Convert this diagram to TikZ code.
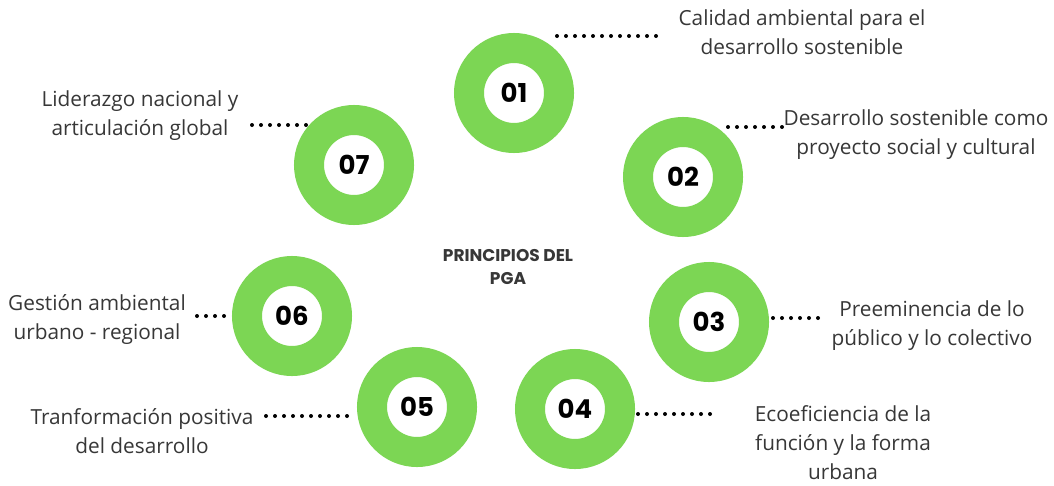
\documentclass[tikz,border=0pt]{standalone}
\usepackage{fontspec}
\setmainfont{Open Sans}
\newfontfamily\numfont{Poppins}
\definecolor{ringgreen}{RGB}{124,214,84}
\definecolor{txtgray}{RGB}{55,55,55}
\begin{document}
\begin{tikzpicture}[x=1pt,y=-1pt,
  ring/.style={circle,draw=ringgreen,line width=30pt,minimum size=90pt,inner sep=0pt,
    font=\numfont\bfseries\fontsize{26}{26}\selectfont,text=black},
  label/.style={align=center,text=txtgray,font=\fontsize{20.8}{29}\selectfont,inner sep=0pt},
  dots/.style={line width=4pt,line cap=round,dash pattern=on 0pt off 9pt,black}]
\useasboundingbox[fill=white] (0,0) rectangle (1054,485);
% rings
\node[ring] (r1) at (514,93) {01};
\node[ring] (r2) at (683,177) {02};
\node[ring] (r3) at (709,322) {03};
\node[ring] (r4) at (575,409) {04};
\node[ring] (r5) at (417,407) {05};
\node[ring] (r6) at (292,316) {06};
\node[ring] (r7) at (354,165) {07};
% centre title
\node[align=center,font=\numfont\bfseries\fontsize{17}{23}\selectfont,text=txtgray] (title) at (508,267) {PRINCIPIOS DEL\\PGA};
% labels
\node[label] (t1) at (802,32.5) {Calidad ambiental para el\\desarrollo sostenible};
\node[label] (t2) at (916,134.5) {Desarrollo sostenible como\\proyecto social y cultural};
\node[label] (t3) at (932,326) {Preeminencia de lo\\público y lo colectivo};
\node[label] (t4) at (843,443) {Ecoeficiencia de la\\función y la forma\\urbana};
\node[label] (t5) at (142,431) {Tranformación positiva\\del desarrollo};
\node[label] (t6) at (97,320) {Gestión ambiental\\urbano - regional};
\node[label] (t7) at (140,116) {Liderazgo nacional y\\articulación global};
% dotted leaders
\coordinate (a1) at (557,36); \coordinate (b1) at (660,36);
\coordinate (a2) at (728,127); \coordinate (b2) at (782,127);
\coordinate (a3) at (773,318); \coordinate (b3) at (818,318);
\coordinate (a4) at (638,414); \coordinate (b4) at (717,414);
\coordinate (a5) at (266,416); \coordinate (b5) at (350,416);
\coordinate (a6) at (197,316); \coordinate (b6) at (230,316);
\coordinate (a7) at (252,125); \coordinate (b7) at (306,125);
\foreach \i in {1,...,7} {\draw[dots] (a\i) -- (b\i);}
\end{tikzpicture}
\end{document}
